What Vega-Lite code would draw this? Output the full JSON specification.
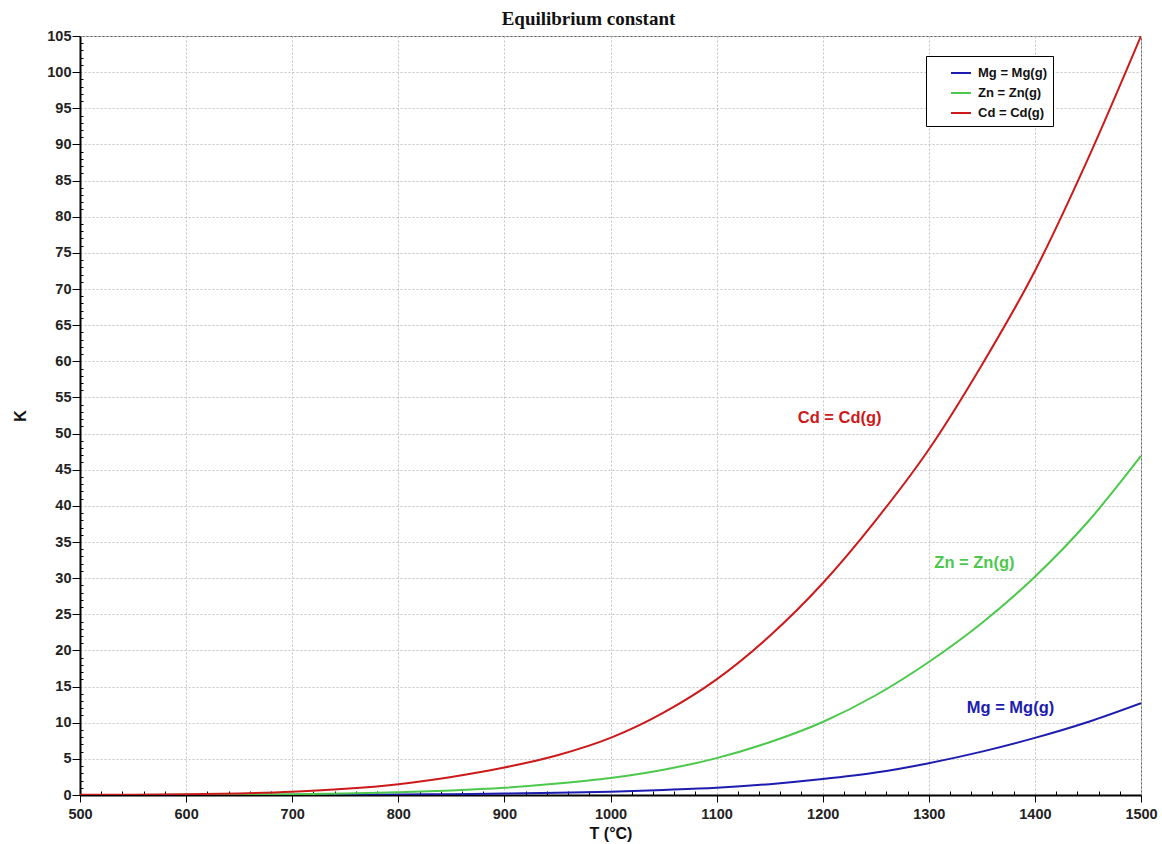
{
  "$schema": "https://vega.github.io/schema/vega-lite/v6.json",
  "width": 1061,
  "height": 759,
  "autosize": {"type": "none"},
  "padding": {"left": 80, "top": 36, "right": 21, "bottom": 49},
  "background": "white",
  "title": {
    "text": "Equilibrium constant",
    "font": "Liberation Serif",
    "fontSize": 19,
    "fontWeight": "bold",
    "color": "#111",
    "anchor": "middle",
    "offset": 7,
    "dx": -22,
    "dy": 8
  },
  "config": {
    "view": {"stroke": "#666", "strokeWidth": 1},
    "axis": {
      "labelFont": "Liberation Sans",
      "labelFontWeight": "bold",
      "labelFontSize": 14.5,
      "labelColor": "#222",
      "titleFont": "Liberation Sans",
      "titleFontWeight": "bold",
      "titleFontSize": 16,
      "titleColor": "#111",
      "domainColor": "#000",
      "domainWidth": 2,
      "tickColor": "#000",
      "gridColor": "#c4c4c4",
      "gridDash": [2, 2],
      "gridWidth": 1
    }
  },
  "datasets": {
    "curves": [
      {"T": 500, "K": 0.0, "s": "Mg = Mg(g)"},
      {"T": 600, "K": 0.003, "s": "Mg = Mg(g)"},
      {"T": 700, "K": 0.02, "s": "Mg = Mg(g)"},
      {"T": 800, "K": 0.07, "s": "Mg = Mg(g)"},
      {"T": 850, "K": 0.12, "s": "Mg = Mg(g)"},
      {"T": 900, "K": 0.2, "s": "Mg = Mg(g)"},
      {"T": 950, "K": 0.31, "s": "Mg = Mg(g)"},
      {"T": 1000, "K": 0.46, "s": "Mg = Mg(g)"},
      {"T": 1050, "K": 0.7, "s": "Mg = Mg(g)"},
      {"T": 1100, "K": 1.0, "s": "Mg = Mg(g)"},
      {"T": 1150, "K": 1.5, "s": "Mg = Mg(g)"},
      {"T": 1200, "K": 2.2, "s": "Mg = Mg(g)"},
      {"T": 1250, "K": 3.1, "s": "Mg = Mg(g)"},
      {"T": 1300, "K": 4.4, "s": "Mg = Mg(g)"},
      {"T": 1350, "K": 6.0, "s": "Mg = Mg(g)"},
      {"T": 1400, "K": 7.9, "s": "Mg = Mg(g)"},
      {"T": 1450, "K": 10.1, "s": "Mg = Mg(g)"},
      {"T": 1500, "K": 12.7, "s": "Mg = Mg(g)"},
      {"T": 500, "K": 0.005, "s": "Zn = Zn(g)"},
      {"T": 600, "K": 0.02, "s": "Zn = Zn(g)"},
      {"T": 700, "K": 0.1, "s": "Zn = Zn(g)"},
      {"T": 750, "K": 0.2, "s": "Zn = Zn(g)"},
      {"T": 800, "K": 0.37, "s": "Zn = Zn(g)"},
      {"T": 850, "K": 0.62, "s": "Zn = Zn(g)"},
      {"T": 900, "K": 1.0, "s": "Zn = Zn(g)"},
      {"T": 950, "K": 1.58, "s": "Zn = Zn(g)"},
      {"T": 1000, "K": 2.35, "s": "Zn = Zn(g)"},
      {"T": 1050, "K": 3.5, "s": "Zn = Zn(g)"},
      {"T": 1100, "K": 5.1, "s": "Zn = Zn(g)"},
      {"T": 1150, "K": 7.3, "s": "Zn = Zn(g)"},
      {"T": 1200, "K": 10.1, "s": "Zn = Zn(g)"},
      {"T": 1250, "K": 13.8, "s": "Zn = Zn(g)"},
      {"T": 1300, "K": 18.4, "s": "Zn = Zn(g)"},
      {"T": 1350, "K": 23.8, "s": "Zn = Zn(g)"},
      {"T": 1400, "K": 30.2, "s": "Zn = Zn(g)"},
      {"T": 1450, "K": 37.8, "s": "Zn = Zn(g)"},
      {"T": 1500, "K": 46.9, "s": "Zn = Zn(g)"},
      {"T": 500, "K": 0.02, "s": "Cd = Cd(g)"},
      {"T": 550, "K": 0.05, "s": "Cd = Cd(g)"},
      {"T": 600, "K": 0.1, "s": "Cd = Cd(g)"},
      {"T": 650, "K": 0.22, "s": "Cd = Cd(g)"},
      {"T": 700, "K": 0.45, "s": "Cd = Cd(g)"},
      {"T": 750, "K": 0.85, "s": "Cd = Cd(g)"},
      {"T": 800, "K": 1.5, "s": "Cd = Cd(g)"},
      {"T": 850, "K": 2.5, "s": "Cd = Cd(g)"},
      {"T": 900, "K": 3.8, "s": "Cd = Cd(g)"},
      {"T": 950, "K": 5.5, "s": "Cd = Cd(g)"},
      {"T": 1000, "K": 7.9, "s": "Cd = Cd(g)"},
      {"T": 1050, "K": 11.4, "s": "Cd = Cd(g)"},
      {"T": 1100, "K": 16.0, "s": "Cd = Cd(g)"},
      {"T": 1150, "K": 22.0, "s": "Cd = Cd(g)"},
      {"T": 1200, "K": 29.3, "s": "Cd = Cd(g)"},
      {"T": 1250, "K": 38.0, "s": "Cd = Cd(g)"},
      {"T": 1300, "K": 47.8, "s": "Cd = Cd(g)"},
      {"T": 1350, "K": 59.5, "s": "Cd = Cd(g)"},
      {"T": 1400, "K": 72.5, "s": "Cd = Cd(g)"},
      {"T": 1450, "K": 88.0, "s": "Cd = Cd(g)"},
      {"T": 1500, "K": 105, "s": "Cd = Cd(g)"}
    ],
    "labels": [
      {"T": 1216, "K": 52.2, "s": "Cd = Cd(g)"},
      {"T": 1343, "K": 32.1, "s": "Zn = Zn(g)"},
      {"T": 1377, "K": 12.0, "s": "Mg = Mg(g)"}
    ]
  },
  "layer": [
    {
      "data": {"name": "curves"},
      "mark": {"type": "line", "strokeWidth": 2, "clip": true, "interpolate": "monotone"},
      "encoding": {
        "x": {
          "field": "T",
          "type": "quantitative",
          "scale": {"domain": [500, 1500], "nice": false, "zero": false},
          "axis": {
            "title": "T (°C)",
            "values": [500, 520, 540, 560, 580, 600, 620, 640, 660, 680, 700, 720, 740, 760, 780, 800, 820, 840, 860, 880, 900, 920, 940, 960, 980, 1000, 1020, 1040, 1060, 1080, 1100, 1120, 1140, 1160, 1180, 1200, 1220, 1240, 1260, 1280, 1300, 1320, 1340, 1360, 1380, 1400, 1420, 1440, 1460, 1480, 1500],
            "tickCount": 1000,
            "labelExpr": "datum.value % 100 === 0 ? datum.label : ''",
            "tickSize": {"condition": {"test": "datum.value % 100 === 0", "value": 7}, "value": -4},
            "gridOpacity": {"condition": {"test": "datum.value % 100 === 0", "value": 1}, "value": 0},
            "labelPadding": 5,
            "titlePadding": 5,
            "format": "d",
            "labelFlush": false,
            "labelOverlap": false
          }
        },
        "y": {
          "field": "K",
          "type": "quantitative",
          "scale": {"domain": [0, 105], "nice": false},
          "axis": {
            "title": "K",
            "values": [0,1,2,3,4,5,6,7,8,9,10,11,12,13,14,15,16,17,18,19,20,21,22,23,24,25,26,27,28,29,30,31,32,33,34,35,36,37,38,39,40,41,42,43,44,45,46,47,48,49,50,51,52,53,54,55,56,57,58,59,60,61,62,63,64,65,66,67,68,69,70,71,72,73,74,75,76,77,78,79,80,81,82,83,84,85,86,87,88,89,90,91,92,93,94,95,96,97,98,99,100,101,102,103,104,105],
            "tickCount": 1000,
            "labelExpr": "datum.value % 5 === 0 ? datum.label : ''",
            "tickSize": {"condition": {"test": "datum.value % 5 === 0", "value": 8}, "value": -3},
            "gridOpacity": {"condition": {"test": "datum.value % 5 === 0 && datum.value > 0", "value": 1}, "value": 0},
            "labelPadding": 1,
            "titlePadding": 18,
            "labelFlush": false,
            "labelOverlap": false,
            "format": "d"
          }
        },
        "color": {
          "field": "s",
          "type": "nominal",
          "sort": ["Mg = Mg(g)", "Zn = Zn(g)", "Cd = Cd(g)"],
          "scale": {"domain": ["Mg = Mg(g)", "Zn = Zn(g)", "Cd = Cd(g)"], "range": ["#1c1cb0", "#4cc94c", "#cc1a1a"]},
          "legend": {
            "title": null,
            "orient": "none",
            "legendX": 846,
            "legendY": 20,
            "symbolType": "stroke",
            "symbolSize": 400,
            "symbolStrokeWidth": 2,
            "symbolOffset": 18,
            "labelFont": "Liberation Sans",
            "labelFontWeight": "bold",
            "labelFontSize": 13,
            "labelColor": "#111",
            "strokeColor": "#000",
            "fillColor": "white",
            "padding": 6,
            "rowPadding": 2,
            "labelOffset": 6
          }
        }
      }
    },
    {
      "data": {"name": "labels"},
      "mark": {"type": "text", "font": "Liberation Sans", "fontWeight": "bold", "fontSize": 16.5, "align": "center", "baseline": "middle"},
      "encoding": {
        "x": {"field": "T", "type": "quantitative"},
        "y": {"field": "K", "type": "quantitative"},
        "text": {"field": "s", "type": "nominal"},
        "color": {"field": "s", "type": "nominal", "legend": null}
      }
    }
  ]
}
